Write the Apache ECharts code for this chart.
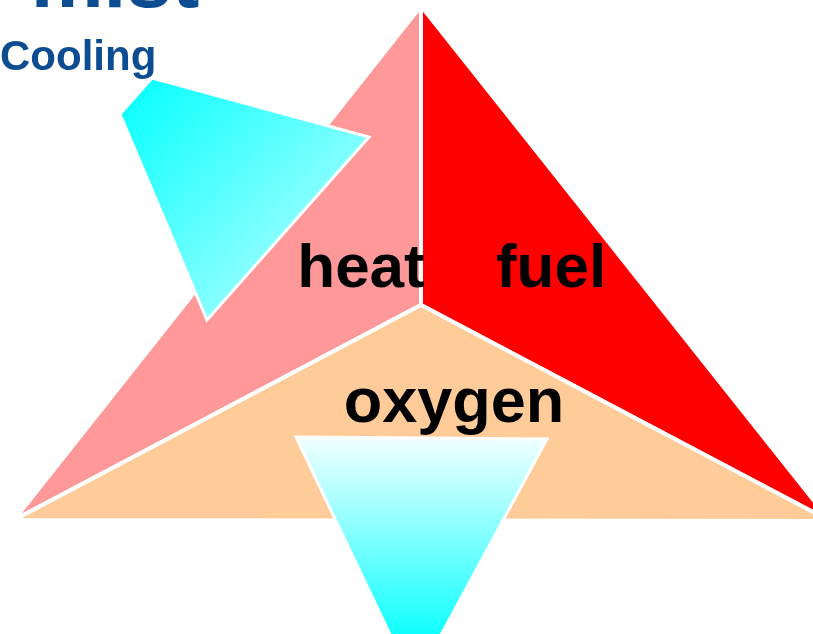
<!DOCTYPE html>
<html>
<head>
<meta charset="utf-8">
<script src="https://cdn.jsdelivr.net/npm/echarts@6/dist/echarts.min.js"></script>
<style>
  html, body { margin: 0; padding: 0; background: #fff; }
  #chart { width: 813px; height: 634px; }
</style>
</head>
<body>
<div id="chart"></div>
<script>
// diagram units match the slide: x to the right, y downwards
var heatTri   = [[421, 6], [421, 305], [14, 520]];
var fuelTri   = [[421, 6], [830, 521], [421, 305]];
var oxygenTri = [[14, 520], [421, 305], [830, 521]];
var coolArrow = [[152, 78], [120, 114], [207, 320], [369, 137]];
var mistArrow = [[296, 437], [547, 439], [414, 685]];

var labels  = ["heat", "fuel", "oxygen", "mist", "Cooling"];
var labelAt = [[361, 270], [551, 270], [454, 405], [115, -16], [0, 58]];

var shapes = [heatTri, fuelTri, oxygenTri, coolArrow, mistArrow];

// fills, in the same order as shapes
var fills = [
  "#FF9999",
  "#FF0000",
  "#FFCC99",
  new echarts.graphic.LinearGradient(0, 0, 1, 1, [
    { offset: 0, color: "#00FFFF" },
    { offset: 1, color: "#CCFFFF" }
  ]),
  new echarts.graphic.LinearGradient(0, 0, 0, 1, [
    { offset: 0, color: "#F4FFFF" },
    { offset: 0.85, color: "#00FFFF" },
    { offset: 1, color: "#00FFFF" }
  ])
];
var strokeW = [4, 4, 4, 3, 3];

// text styles
var labelFont = [
  "bold 62px 'Liberation Sans', Arial, sans-serif",
  "bold 62px 'Liberation Sans', Arial, sans-serif",
  "bold 63px 'Liberation Sans', Arial, sans-serif",
  "bold 82px 'Liberation Sans', Arial, sans-serif",
  "bold 42px 'Liberation Sans', Arial, sans-serif"
];
var labelColor = ["#000", "#000", "#000", "#0E4C92", "#0E4C92"];
var labelAlign = ["center", "center", "center", "center", "left"];

var chart = echarts.init(document.getElementById("chart"));
chart.setOption({
  animation: false,
  backgroundColor: "#fff",
  grid: { left: 0, right: 0, top: 0, bottom: 0 },
  xAxis: { type: "value", min: 0, max: 813, show: false },
  yAxis: { type: "value", min: 0, max: 634, inverse: true, show: false },
  series: [
    {
      type: "custom",
      coordinateSystem: "cartesian2d",
      clip: false,
      data: shapes.map(function (s, i) { return [i]; }),
      renderItem: function (params, api) {
        var i = params.dataIndex;
        var pts = shapes[i].map(function (p) { return api.coord(p); });
        return {
          type: "polygon",
          shape: { points: pts },
          style: { fill: fills[i], stroke: "#fff", lineWidth: strokeW[i], lineJoin: "miter" }
        };
      }
    },
    {
      type: "custom",
      coordinateSystem: "cartesian2d",
      clip: false,
      z: 5,
      data: labels.map(function (t, i) { return [i]; }),
      renderItem: function (params, api) {
        var i = params.dataIndex;
        var p = api.coord(labelAt[i]);
        return {
          type: "text",
          style: {
            text: labels[i],
            x: p[0],
            y: p[1],
            font: labelFont[i],
            fill: labelColor[i],
            align: labelAlign[i],
            verticalAlign: "middle"
          }
        };
      }
    }
  ]
});
</script>
</body>
</html>
